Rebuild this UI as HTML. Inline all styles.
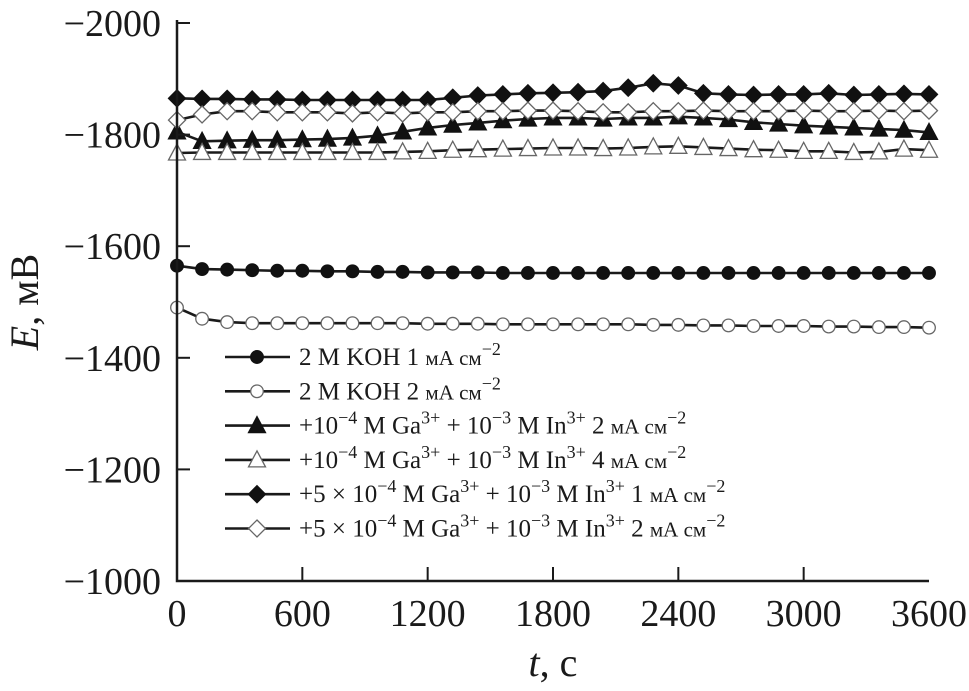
<!DOCTYPE html>
<html><head><meta charset="utf-8"><style>
html,body{margin:0;padding:0;background:#fff;}
svg{display:block;font-family:"Liberation Serif",serif;}
</style></head><body>
<svg id="chart" width="969" height="691" viewBox="0 0 969 691">
<g id="series"></g>
<g id="axes"></g>
<g id="legend"></g>
</svg>
<script>
const times = [];
for (let t = 0; t <= 3600; t += 120) times.push(t);
const xTicks = [0, 600, 1200, 1800, 2400, 3000, 3600];
const yTicks = [-2000, -1800, -1600, -1400, -1200, -1000];
const kohOne = [-1565,-1559,-1558,-1557,-1556,-1556,-1555,-1555,-1554,-1554,-1553,-1553,-1553,-1552,-1552,-1552,-1552,-1552,-1552,-1552,-1552,-1552,-1552,-1552,-1552,-1552,-1552,-1552,-1552,-1552,-1552];
const kohTwo = [-1490,-1470,-1464,-1462,-1462,-1462,-1462,-1462,-1462,-1462,-1461,-1461,-1461,-1460,-1460,-1460,-1460,-1460,-1460,-1459,-1459,-1458,-1458,-1457,-1457,-1457,-1456,-1456,-1455,-1455,-1454];
const gaLowTwo = [-1805,-1788,-1789,-1790,-1790,-1791,-1792,-1794,-1798,-1805,-1812,-1817,-1821,-1825,-1828,-1830,-1830,-1828,-1830,-1830,-1832,-1830,-1827,-1822,-1819,-1816,-1814,-1812,-1810,-1808,-1804];
const gaLowFour = [-1767,-1768,-1768,-1768,-1768,-1768,-1768,-1768,-1768,-1769,-1770,-1772,-1773,-1774,-1775,-1776,-1776,-1775,-1776,-1778,-1779,-1777,-1775,-1773,-1772,-1770,-1770,-1768,-1769,-1774,-1772];
const gaHighOne = [-1865,-1864,-1864,-1863,-1863,-1862,-1862,-1862,-1862,-1862,-1862,-1866,-1870,-1872,-1874,-1875,-1876,-1878,-1884,-1892,-1888,-1874,-1872,-1871,-1872,-1872,-1874,-1871,-1872,-1873,-1872];
const gaHighTwo = [-1826,-1836,-1842,-1842,-1840,-1840,-1840,-1838,-1840,-1838,-1840,-1840,-1842,-1842,-1843,-1843,-1842,-1840,-1840,-1842,-1842,-1843,-1842,-1842,-1842,-1843,-1842,-1842,-1843,-1842,-1843];

const NS = "http://www.w3.org/2000/svg";
const X0 = 177, X1 = 929, Y0 = 581, Y1 = 23;
const xs = t => X0 + (t / 3600) * (X1 - X0);
const ys = e => Y0 - ((-e - 1000) / 1000) * (Y0 - Y1);
function mk(tag, attrs, parent) { const el = document.createElementNS(NS, tag); for (const k in attrs) el.setAttribute(k, attrs[k]); parent.appendChild(el); return el; }

function marker(kind, x, y, parent) {
  let el;
  const fill = kind.filled ? "#111" : "#fff";
  const stroke = kind.filled ? "#111" : "#666";
  if (kind.shape === "circle") el = mk("circle", {cx: x, cy: y, r: 6.3, fill, stroke, "stroke-width": 1.3}, parent);
  else if (kind.shape === "triangle") el = mk("polygon", {points: `${x},${y-9} ${x-8.5},${y+7} ${x+8.5},${y+7}`, fill, stroke, "stroke-width": 1.3}, parent);
  else el = mk("polygon", {points: `${x},${y-8.5} ${x+8.5},${y} ${x},${y+8.5} ${x-8.5},${y}`, fill, stroke, "stroke-width": 1.3}, parent);
  return el;
}

const series = [
  {name: "koh-1ma", data: kohOne, shape: "circle", filled: true},
  {name: "koh-2ma", data: kohTwo, shape: "circle", filled: false},
  {name: "ga-1e-4-2ma", data: gaLowTwo, shape: "triangle", filled: true},
  {name: "ga-1e-4-4ma", data: gaLowFour, shape: "triangle", filled: false},
  {name: "ga-5e-4-1ma", data: gaHighOne, shape: "diamond", filled: true},
  {name: "ga-5e-4-2ma", data: gaHighTwo, shape: "diamond", filled: false}
];

const sg = document.getElementById("series");
series.forEach(s => {
  const g = mk("g", {}, sg);
  
  
  const d = s.data.map((v, i) => (i ? "L" : "M") + xs(times[i]).toFixed(1) + "," + ys(v).toFixed(1)).join(" ");
  const p = mk("path", {d, fill: "none", stroke: "#1a1a1a", "stroke-width": 2.6, "stroke-linejoin": "round"}, g);
  
  
  s.data.forEach((v, i) => {
    const m = marker(s, xs(times[i]), ys(v), g);
    
    
  });
});

const ag = document.getElementById("axes");
const ax = mk("path", {d: `M${X0},${Y1-3} L${X0},${Y0} L${X1},${Y0}`, fill: "none", stroke: "#1a1a1a", "stroke-width": 2.5}, ag);


yTicks.forEach(v => {
  const y = ys(v);
  const tk = mk("line", {x1: X0, x2: X0 + 13, y1: y, y2: y, stroke: "#1a1a1a", "stroke-width": 2}, ag);
  
  
  const tx = mk("text", {x: 161, y: y + 13, "text-anchor": "end", "font-size": 38, fill: "#1a1a1a"}, ag);
  tx.textContent = "\u2212" + (-v);
  
  
});
xTicks.forEach(v => {
  const x = xs(v);
  if (v > 0 && v < 3600) {
    const tk = mk("line", {x1: x, x2: x, y1: Y0, y2: Y0 - 14, stroke: "#1a1a1a", "stroke-width": 2}, ag);
    
    
  }
  const tx = mk("text", {x: x, y: 626, "text-anchor": "middle", "font-size": 38, fill: "#1a1a1a"}, ag);
  tx.textContent = v;
  
  
});
const xt = mk("text", {x: 553, y: 676, "text-anchor": "middle", "font-size": 40, fill: "#1a1a1a"}, ag);
xt.innerHTML = '<tspan font-style="italic">t</tspan>, с';


const yt = mk("text", {x: 0, y: 0, "text-anchor": "middle", "font-size": 40, fill: "#1a1a1a", transform: "translate(38,302) rotate(-90)"}, ag);
yt.innerHTML = '<tspan font-style="italic">E</tspan>, мВ';



const U = (s) => '<tspan font-size="18" dy="-10">' + s + '</tspan>';
const D = (s) => '<tspan dy="10">' + s + '</tspan>';
const UNIT = '<tspan font-size="21">мА см</tspan>' + U('−2');
const labels = [
  '2 M KOH 1 ' + UNIT,
  '2 M KOH 2 ' + UNIT,
  '+10' + U('−4') + D(' M Ga') + U('3+') + D(' + 10') + U('−3') + D(' M In') + U('3+') + D(' 2 ') + UNIT,
  '+10' + U('−4') + D(' M Ga') + U('3+') + D(' + 10') + U('−3') + D(' M In') + U('3+') + D(' 4 ') + UNIT,
  '+5 × 10' + U('−4') + D(' M Ga') + U('3+') + D(' + 10') + U('−3') + D(' M In') + U('3+') + D(' 1 ') + UNIT,
  '+5 × 10' + U('−4') + D(' M Ga') + U('3+') + D(' + 10') + U('−3') + D(' M In') + U('3+') + D(' 2 ') + UNIT
];
const lg = document.getElementById("legend");
series.forEach((s, i) => {
  const y = 357 + i * 34.3;
  const g = mk("g", {}, lg);
  
  
  mk("line", {x1: 225, x2: 290, y1: y, y2: y, stroke: "#1a1a1a", "stroke-width": 2.6}, g);
  marker(s, 257, y, g);
  const t = mk("text", {x: 299, y: y + 8, "font-size": 25, fill: "#1a1a1a"}, g);
  t.innerHTML = labels[i];
});
</script>
</body></html>
